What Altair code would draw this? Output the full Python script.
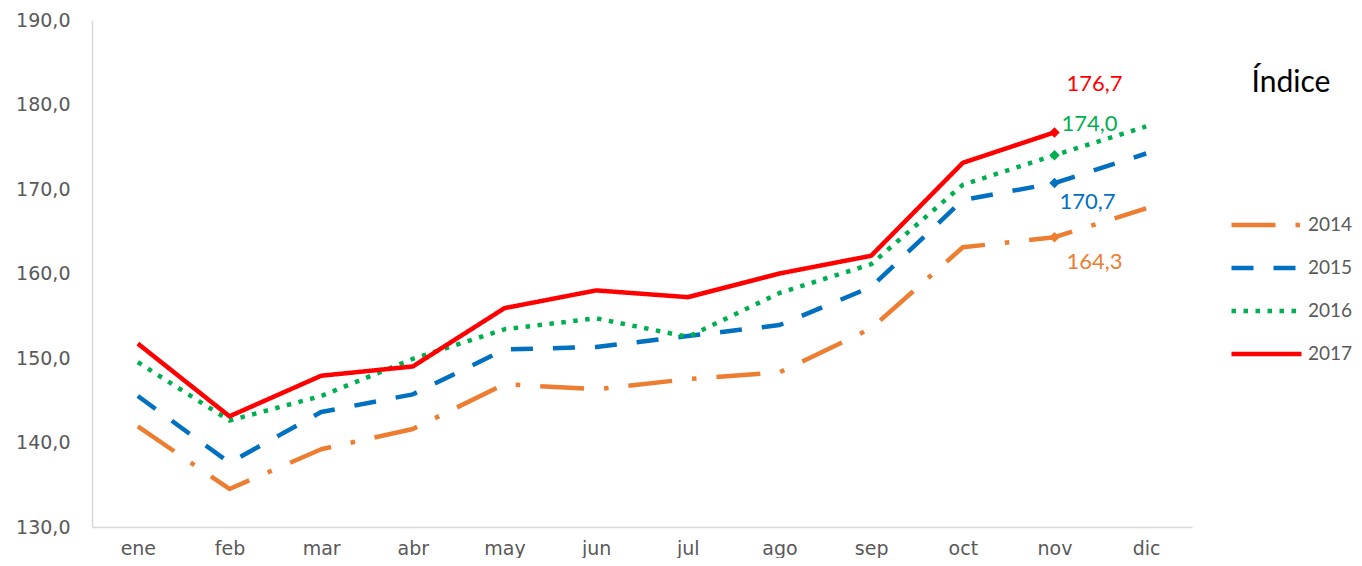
import altair as alt
import pandas as pd

months = ["ene", "feb", "mar", "abr", "may", "jun", "jul", "ago", "sep", "oct", "nov", "dic"]
years = ["2014", "2015", "2016", "2017"]
v2014 = [141.9, 134.5, 139.2, 141.6, 146.9, 146.3, 147.5, 148.3, 153.5, 163.1, 164.3, 167.7]
v2015 = [145.5, 137.6, 143.6, 145.7, 151.0, 151.3, 152.6, 153.9, 158.4, 168.7, 170.7, 174.2]
v2016 = [149.5, 142.6, 145.5, 149.9, 153.4, 154.7, 152.5, 157.7, 161.1, 170.5, 174.0, 177.4]
v2017 = [151.7, 143.1, 147.9, 149.0, 155.9, 158.0, 157.2, 160.0, 162.1, 173.1, 176.7, None]
colors = ["#ED7D31", "#0070C0", "#00B050", "#FF0000"]
dashes = [[44, 20, 4.5, 20], [22, 20], [4.5, 7.5], [1, 0]]
y_ticks = [130, 140, 150, 160, 170, 180, 190]

series = {"2014": v2014, "2015": v2015, "2016": v2016, "2017": v2017}
rows = []
for yr, vals in series.items():
    for m, v in zip(months, vals):
        if v is not None:
            rows.append({"year": yr, "month": m, "value": v, "hex": colors[years.index(yr)]})
df = pd.DataFrame(rows)

AXIS_FONT = "DejaVu Sans"
AXIS_COLOR = "#595959"

x_enc = alt.X("month:N", sort=months, scale=alt.Scale(type="point", padding=0.5),
              axis=alt.Axis(title=None, labelAngle=0, ticks=False, tickSize=0, grid=False,
                            labelPadding=12, labelFont=AXIS_FONT, labelFontSize=19,
                            labelColor=AXIS_COLOR, domainColor="#D9D9D9", domainWidth=1.5))
y_enc = alt.Y("value:Q", scale=alt.Scale(domain=[130, 190], nice=False, zero=False),
              axis=alt.Axis(title=None, values=y_ticks, ticks=False, tickSize=0, grid=False,
                            labelPadding=22, labelFont=AXIS_FONT, labelFontSize=19,
                            labelColor=AXIS_COLOR, domainColor="#D9D9D9", domainWidth=1.5,
                            labelExpr="replace(format(datum.value, '.1f'), '.', ',')"))

legend = alt.Legend(title="Índice", orient="none", legendX=1137, legendY=48,
                    symbolType="stroke", symbolSize=4900, symbolStrokeWidth=4.5,
                    labelFont="Lato", labelFontSize=19, labelColor=AXIS_COLOR, labelOffset=4,
                    titleFont="Lato", titleFontSize=30, titleColor="#000000",
                    titleFontWeight="normal", titleAnchor="middle", titlePadding=116,
                    clipHeight=22, rowPadding=21)

lines = alt.Chart(df).mark_line(strokeWidth=4.5, strokeJoin="round").encode(
    x=x_enc,
    y=y_enc,
    color=alt.Color("year:N", scale=alt.Scale(domain=years, range=colors), legend=legend),
    strokeDash=alt.StrokeDash("year:N", scale=alt.Scale(domain=years, range=dashes), legend=legend),
)

nov = df[df["month"] == "nov"]
points = alt.Chart(nov).mark_point(shape="diamond", filled=True, size=110, opacity=1).encode(
    x=alt.X("month:N", sort=months), y="value:Q",
    color=alt.Color("hex:N", scale=None),
)

offsets = {"2014": (40, 25), "2015": (33, 19), "2016": (35, -31), "2017": (40, -48)}
texts = []
for yr in years:
    dx, dy = offsets[yr]
    t = alt.Chart(nov[nov["year"] == yr]).transform_calculate(
        label="replace(format(datum.value, '.1f'), '.', ',')"
    ).mark_text(font="Lato", fontSize=22, dx=dx, dy=dy, color=colors[years.index(yr)]).encode(
        x=alt.X("month:N", sort=months), y="value:Q", text="label:N"
    )
    texts.append(t)

chart = alt.layer(lines, points, *texts).properties(
    width=1100, height=507,
    autosize=alt.AutoSizeParams(type="none"),
    padding={"top": 12, "left": 84, "right": 162, "bottom": 31},
).configure(background="white").configure_view(stroke=None)

chart.save("out.html", embed_options={"renderer": "svg", "actions": False})
